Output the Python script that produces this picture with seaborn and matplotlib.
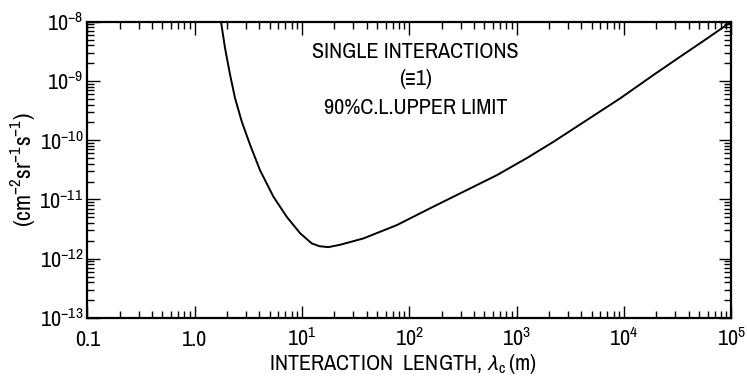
import matplotlib
matplotlib.use("Agg")
import matplotlib.pyplot as plt
import matplotlib.ticker as mticker
import seaborn as sns
import pandas as pd

# Data
interaction_length_m = [1.76, 1.92, 2.14, 2.38, 2.75, 3.29, 4.07, 5.41, 7.21, 9.6,
                        12.3, 14.5, 17.6, 22.6, 37.3, 76.6, 156, 319, 653, 1245,
                        2200, 4510, 9230, 18800, 33400, 59300, 100000]
flux_limit = [1.0e-8, 3.56e-9, 1.26e-9, 5.1e-10, 2.05e-10, 8.3e-11, 3.1e-11,
              1.12e-11, 5.1e-12, 2.7e-12, 1.82e-12, 1.63e-12, 1.57e-12, 1.72e-12,
              2.2e-12, 3.7e-12, 7.1e-12, 1.35e-11, 2.57e-11, 5.0e-11, 9.4e-11,
              2.19e-10, 5.1e-10, 1.26e-9, 2.57e-9, 5.2e-9, 1.0e-8]

x_tick_values = [0.1, 1.0, 10, 100, 1000, 10000, 100000]
x_tick_labels = ["0.1", "1.0", r"$10^1$", r"$10^2$", r"$10^3$", r"$10^4$", r"$10^5$"]
y_tick_values = [1e-13, 1e-12, 1e-11, 1e-10, 1e-9, 1e-8]
y_tick_labels = [r"$10^{-13}$", r"$10^{-12}$", r"$10^{-11}$", r"$10^{-10}$",
                 r"$10^{-9}$", r"$10^{-8}$"]

annotation_lines = ["SINGLE INTERACTIONS", "(\u22611)", "90%C.L.UPPER LIMIT"]

FONT = ["Archivo Narrow", "DejaVu Sans"]

sns.set_style("ticks")
plt.rcParams["font.family"] = FONT
plt.rcParams["text.color"] = "black"
plt.rcParams["axes.labelcolor"] = "black"
plt.rcParams["xtick.color"] = "black"
plt.rcParams["ytick.color"] = "black"
plt.rcParams["mathtext.fontset"] = "custom"
plt.rcParams["mathtext.rm"] = "Archivo Narrow"
plt.rcParams["mathtext.it"] = "Archivo Narrow"
plt.rcParams["mathtext.sf"] = "Archivo Narrow"
plt.rcParams["mathtext.bf"] = "Archivo Narrow"
plt.rcParams["mathtext.fallback"] = "stixsans"

df = pd.DataFrame({"lam": interaction_length_m, "flux": flux_limit})

fig = plt.figure(figsize=(7.47, 3.85), dpi=100)
ax = fig.add_axes([0.1169, 0.1740, 0.8621, 0.7696])

sns.lineplot(data=df, x="lam", y="flux", ax=ax, color="black", linewidth=1.4,
             sort=False)

ax.set_xscale("log")
ax.set_yscale("log")
ax.set_xlim(0.1, 1e5)
ax.set_ylim(1e-13, 1e-8)

ax.set_xticks(x_tick_values)
ax.set_xticklabels(x_tick_labels)
ax.set_yticks(y_tick_values)
ax.set_yticklabels(y_tick_labels)
ax.xaxis.set_minor_locator(mticker.LogLocator(base=10, subs=range(2, 10), numticks=20))
ax.yaxis.set_minor_locator(mticker.LogLocator(base=10, subs=range(2, 10), numticks=20))
ax.xaxis.set_minor_formatter(mticker.NullFormatter())
ax.yaxis.set_minor_formatter(mticker.NullFormatter())

ax.tick_params(which="both", direction="in", top=True, right=True, color="black",
               width=1.0)
ax.tick_params(which="major", length=9, labelsize=16)
ax.tick_params(axis="x", which="major", pad=20)
ax.tick_params(axis="y", which="major", pad=3)
ax.tick_params(which="minor", length=5)
for lbl in ax.get_xticklabels():
    lbl.set_verticalalignment("baseline")

for s in ax.spines.values():
    s.set_linewidth(1.6)
    s.set_color("black")

ax.set_xlabel(r"INTERACTION  LENGTH, $\lambda_{\mathrm{c}}\,$(m)", fontsize=16)
ax.xaxis.set_label_coords(0.49, -0.155)
ax.xaxis.label.set_verticalalignment("center")
ax.set_ylabel(r"(cm$^{-2}$sr$^{-1}$s$^{-1}$)", fontsize=17)
ax.yaxis.set_label_coords(-0.101, 0.5)
ax.yaxis.label.set_verticalalignment("center")

baselines = [0.876, 0.786, 0.690]
for line, yb in zip(annotation_lines, baselines):
    ax.text(0.51, yb, line, transform=ax.transAxes, ha="center",
            va="baseline", fontsize=16, family=FONT)

fig.savefig("out.png", dpi=100)
